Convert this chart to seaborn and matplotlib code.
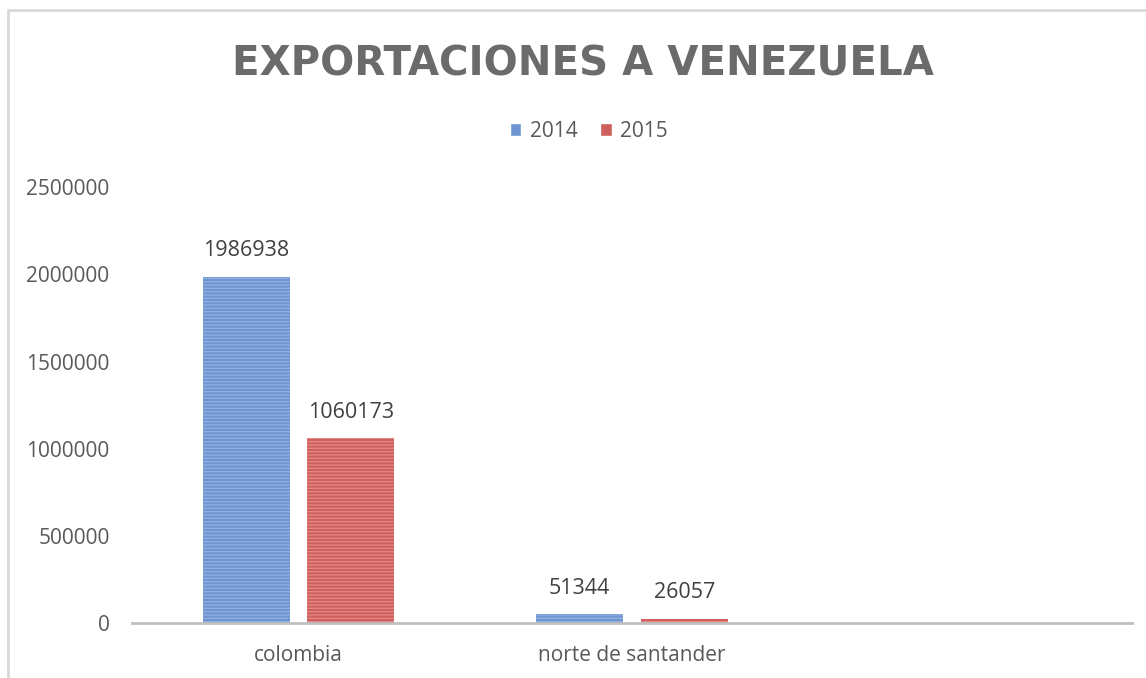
import pandas as pd
import matplotlib.pyplot as plt
import seaborn as sns
from matplotlib.patches import Rectangle

# Data
categories = ["colombia", "norte de santander", ""]
years = ["2014", "2015"]
values_2014 = [1986938, 51344]
values_2015 = [1060173, 26057]

df = pd.DataFrame({
    "region": categories[:2] * 2,
    "year": [years[0]] * 2 + [years[1]] * 2,
    "value": values_2014 + values_2015,
})

sns.set_style("white")
plt.rcParams["font.family"] = ["Open Sans", "DejaVu Sans"]

gray = "#595959"
fig = plt.figure(figsize=(11.46, 6.78), dpi=100)
ax = fig.add_axes([0.115, 0.081, 0.873, 0.643])

palette = {"2014": "#6E95CF", "2015": "#CF5F5D"}
hatch_colors = {"2014": "#8DAEDF", "2015": "#E08583"}

sns.barplot(
    data=df, x="region", y="value", hue="year",
    order=categories, hue_order=years, palette=palette,
    width=0.628, gap=0.17, ax=ax, saturation=1, legend=True,
)

for container, yr in zip(ax.containers, years):
    for bar in container:
        bar.set_hatch("-----")
        bar.set_edgecolor(hatch_colors[yr])
        bar.set_linewidth(0)
    ax.bar_label(container, fmt="%d", padding=11, fontsize=15.5, color="#404040")

ax.set_xlim(-0.5, 2.5)
ax.set_ylim(0, 2500000)
ax.set_yticks([0, 500000, 1000000, 1500000, 2000000, 2500000])
ax.set_yticklabels(["0", "500000", "1000000", "1500000", "2000000", "2500000"])
ax.set_xlabel("")
ax.set_ylabel("")
ax.tick_params(axis="both", length=0, labelsize=15, labelcolor=gray)
ax.tick_params(axis="y", pad=16)
ax.tick_params(axis="x", pad=16)

for side in ["top", "right", "left"]:
    ax.spines[side].set_visible(False)
ax.spines["bottom"].set_color("#BFBFBF")
ax.spines["bottom"].set_linewidth(2)

leg = ax.legend(
    loc="center", bbox_to_anchor=(0.457, 1.128), ncol=2, frameon=False,
    fontsize=15, handlelength=0.55, handleheight=0.55, handletextpad=0.4,
    columnspacing=1.1,
)
for t in leg.get_texts():
    t.set_color(gray)
for h in leg.legend_handles:
    h.set_hatch("")

fig.text(0.509, 0.905, "EXPORTACIONES A VENEZUELA", ha="center", va="center",
         fontsize=29, fontweight="bold", color="#6B6B6B", family="DejaVu Sans")

# chart border
fig.patches.append(Rectangle((8 / 1146, -0.1), 1.2, 1.1 - 10 / 678,
                             transform=fig.transFigure, fill=False,
                             edgecolor="#D9D9D9", linewidth=2))

plt.savefig("out.png", dpi=100)
